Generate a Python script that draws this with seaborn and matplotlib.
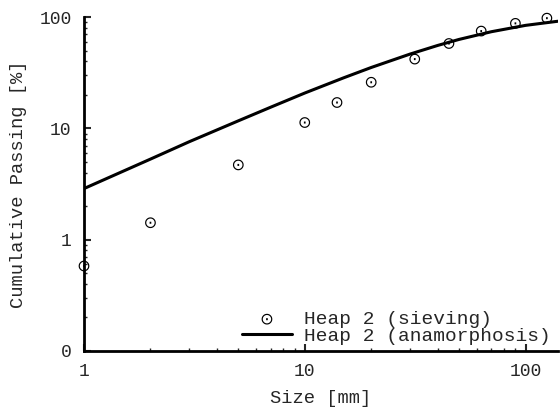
import numpy as np
import pandas as pd
import seaborn as sns
import matplotlib.pyplot as plt
from matplotlib.ticker import LogLocator, NullFormatter

# sieving results
sieve_size = [1, 2, 5, 10, 14, 20, 31.5, 45, 63, 90, 125]
sieve_pass = [0.58, 1.42, 4.7, 11.3, 17.1, 26, 42, 58, 75, 88, 98]

# anamorphosis curve
curve_size = [1, 2, 3, 5, 7, 10, 15, 20, 30, 40, 50, 70, 100, 140]
curve_pass = [2.88, 5.3, 7.6, 11.7, 15.5, 20.8, 28.5, 35.3, 46.6, 55.7, 63.1, 74.0, 84.4, 91.9]

ytick_vals = [0.1, 1, 10, 100]
ytick_labels = ['0', '1', '10', '100']
xtick_vals = [1, 10, 100]
xtick_labels = ['1', '10', '100']

sieve_df = pd.DataFrame({'Size': sieve_size, 'Passing': sieve_pass})
curve_df = pd.DataFrame({'Size': curve_size, 'Passing': curve_pass})

sns.set_style("ticks")
plt.rcParams['font.family'] = ['Liberation Mono', 'DejaVu Sans']

fig = plt.figure(figsize=(5.6, 4.09), dpi=100)
ax = fig.add_axes([0.15, 0.142, 0.846, 0.816])

sns.lineplot(data=curve_df, x='Size', y='Passing', color='black', linewidth=2.2,
             label='Heap 2 (anamorphosis)', ax=ax, zorder=2)
sns.scatterplot(data=sieve_df, x='Size', y='Passing', marker=r'$\odot$', s=60,
                color='black', edgecolor='none', label='Heap 2 (sieving)', ax=ax,
                zorder=3, clip_on=False)

ax.set_xscale('log')
ax.set_yscale('log')
ax.set_xlim(1, 140)
ax.set_ylim(0.1, 100)

ax.set_xticks(xtick_vals)
ax.set_xticklabels(xtick_labels)
ax.set_yticks(ytick_vals)
ax.set_yticklabels(ytick_labels)
ax.xaxis.set_minor_locator(LogLocator(base=10, subs=np.arange(2, 10)))
ax.yaxis.set_minor_locator(LogLocator(base=10, subs=np.arange(2, 10)))
ax.xaxis.set_minor_formatter(NullFormatter())
ax.yaxis.set_minor_formatter(NullFormatter())

ax.tick_params(which='major', direction='in', length=5, width=1.5, labelsize=13, pad=9)
ax.tick_params(which='minor', direction='in', length=2.5, width=1)

ax.set_xlabel('Size [mm]', fontsize=13.5, labelpad=7)
ax.set_ylabel('Cumulative Passing [%]', fontsize=13.5, labelpad=9)

for side in ['top', 'right']:
    ax.spines[side].set_visible(False)
for side in ['left', 'bottom']:
    ax.spines[side].set_linewidth(2)
    ax.spines[side].set_color('black')

handles, labels = ax.get_legend_handles_labels()
order = [labels.index('Heap 2 (sieving)'), labels.index('Heap 2 (anamorphosis)')]
ax.legend([handles[i] for i in order], [labels[i] for i in order],
          loc='lower right', bbox_to_anchor=(0.985, 0.018), frameon=False,
          fontsize=14, borderaxespad=0.0, borderpad=0.0, handlelength=2.6,
          handletextpad=0.6, labelspacing=-0.05)

fig.savefig('out.png', dpi=100)
